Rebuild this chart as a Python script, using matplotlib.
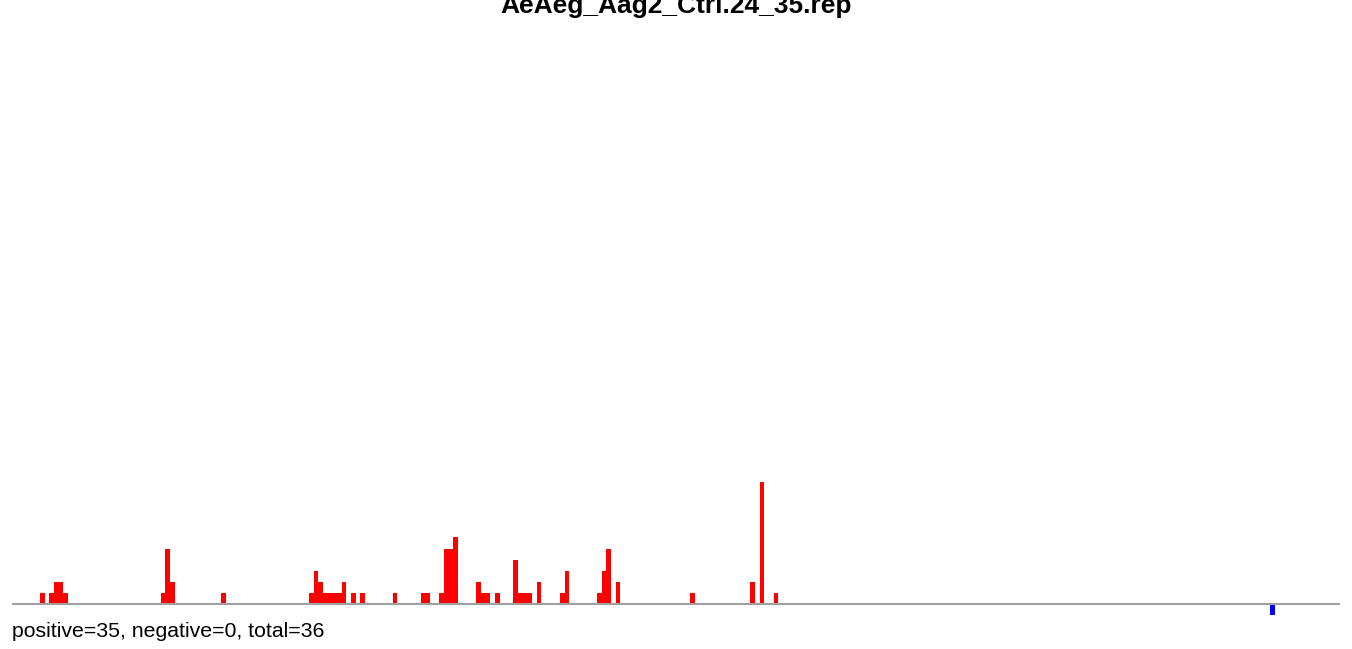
import matplotlib.pyplot as plt

# bin index and height (bin units along the sequence)
pos_bins = [6, 8, 9, 10, 11, 32, 33, 34, 45, 64, 65, 66, 67, 68, 69, 70, 71,
            73, 75, 82, 88, 89, 92, 93, 94, 95, 100, 101, 102, 104, 108, 109,
            110, 111, 113, 118, 119, 126, 127, 128, 130, 146, 159, 161, 164]
pos_vals = [1, 1, 2, 2, 1, 1, 5, 2, 1, 1, 3, 2, 1, 1, 1, 1, 2,
            1, 1, 1, 1, 1, 1, 5, 5, 6, 2, 1, 1, 1, 4, 1,
            1, 1, 2, 1, 3, 1, 3, 5, 2, 1, 2, 11, 1]
neg_bins = [271]
neg_vals = [-1]

title = "AeAeg_Aag2_Ctrl.24_35.rep"
summary = "positive=35, negative=0, total=36"

W, H = 1352, 649
fig = plt.figure(figsize=(W / 100, H / 100), dpi=100)

left, right = 12, 1340
top, bottom = 40, 630
base = 604
unit = 11.1
ax = fig.add_axes([left / W, 1 - bottom / H, (right - left) / W, (bottom - top) / H])
ax.set_xlim(0, 286)
ax.set_ylim(-(bottom - base) / unit, (base - top) / unit)
ax.axis("off")

ax.bar(pos_bins, pos_vals, width=1, align="edge", color="#ff0000", linewidth=0, zorder=2)
ax.bar(neg_bins, neg_vals, width=1, align="edge", color="#0000ff", linewidth=0, zorder=2)
ax.axhline(0, color="#a0a0a0", linewidth=1.5, zorder=3)

fig.text(0.5, 1 - 13.5 / H, title, ha="center", va="baseline",
         fontsize=19, fontweight="bold", family=["Liberation Sans", "DejaVu Sans"])
fig.text(left / W, 1 - 637 / H, summary, ha="left", va="baseline",
         fontsize=15.3, family=["Liberation Sans", "DejaVu Sans"])

fig.savefig("out.png", dpi=100)
